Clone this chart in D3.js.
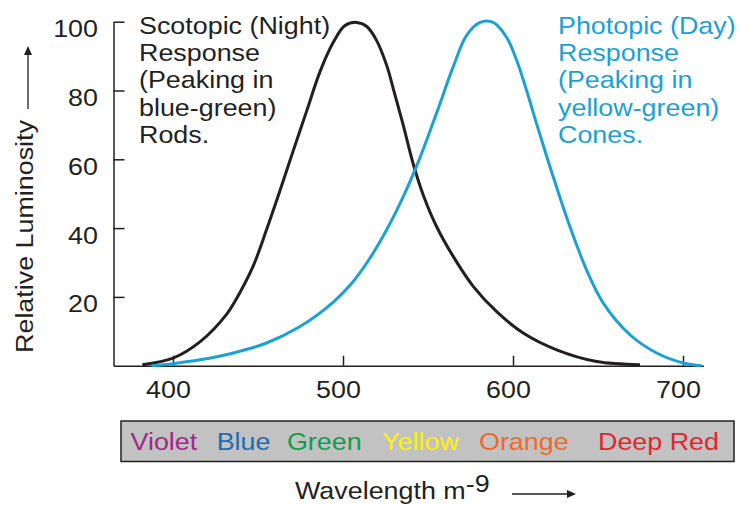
<!DOCTYPE html>
<html>
<head>
<meta charset="utf-8">
<script src="https://cdn.jsdelivr.net/npm/d3@7"></script>
<style>
  html, body { margin: 0; padding: 0; background: #ffffff; }
  svg { display: block; font-family: "Liberation Sans", Arial, Helvetica, sans-serif; }
</style>
</head>
<body>
<svg id="chart" width="742" height="506"></svg>
<script>
// ---- data ----
const scotopicWl  = [382, 400, 416, 431.6, 439.4, 447.2, 455, 463, 470.8, 478.6, 486.5, 494.3, 501, 508, 514, 519.8, 525.7, 529.6, 535.5, 541.4, 547.3, 555.1, 564.9, 576.7, 590.4, 606, 625.7, 649.2, 674.7];
const scotopicVal = [0.3, 2.2, 7, 15, 21.3, 29, 39.5, 51, 62.6, 74, 85.5, 94, 98.8, 99.8, 98.6, 94.5, 87.3, 80.5, 69.8, 58.5, 49.5, 40.4, 31.7, 23, 15.7, 9.5, 4.6, 1.2, 0.3];

const photopicWl  = [387.5, 400, 415.9, 435.5, 455, 474.7, 494.3, 506, 515.9, 525.7, 535.5, 545.3, 555.1, 564.9, 572.7, 580.6, 588.4, 596.3, 602.2, 608, 613.9, 619.8, 625.7, 633.5, 643.3, 653.1, 668.8, 684.5, 700.2, 711];
const photopicVal = [0, 0.6, 1.7, 3.7, 6.6, 11.4, 18.5, 24.5, 31.3, 39.5, 49.2, 60.5, 73.5, 87, 96, 99.8, 99.8, 95.4, 88.7, 80, 70.3, 60.9, 51.8, 40.4, 27.8, 18.2, 9, 3.7, 0.8, 0];

const xTicks = [400, 500, 600, 700];
const yTicks = [20, 40, 60, 80, 100];

const bandNames = ["Violet", "Blue", "Green", "Yellow", "Orange", "Deep Red"];
const bandWl    = [375, 425.7, 467, 523, 580, 650];   // wavelength where each word starts
const bandColors = ["#a2278c", "#1b6db5", "#0ca04b", "#fff200", "#ec6a2c", "#e2262b"];

const scotopicLines = ["Scotopic (Night)", "Response", "(Peaking in", "blue-green)", "Rods."];
const photopicLines = ["Photopic (Day)", "Response", "(Peaking in", "yellow-green)", "Cones."];

// ---- styles ----
const INK = "#231f20";
const CYAN = "#1ba1d6";
const FS = 24;      // font size
const SX = 1.12;    // horizontal stretch to match reference type

const svg = d3.select("#chart");

const x = d3.scaleLinear().domain([365, 712]).range([113.5, 703.4]);
const y = d3.scaleLinear().domain([0, 100]).range([365.7, 21.7]);

function label(g, px, py, s, fill, anchor) {
  return g.append("text")
    .attr("transform", `translate(${px},${py}) scale(${SX},1)`)
    .attr("text-anchor", anchor || "start")
    .attr("font-size", FS)
    .attr("fill", fill || INK)
    .text(s);
}

// ---- axes ----
const yAxis = d3.axisLeft(y).tickValues(yTicks).tickSize(-11).tickSizeOuter(0);
const gy = svg.append("g").attr("transform", `translate(${x(365)},0)`).call(yAxis);
gy.selectAll("path.domain, line").attr("stroke", INK).attr("stroke-width", 1.5);
gy.selectAll("text")
  .attr("x", null).attr("dy", null)
  .attr("transform", `translate(-15.5,15) scale(${SX},1)`)
  .attr("font-size", FS).attr("font-family", null).attr("fill", INK);

const xAxis = d3.axisBottom(x).tickValues(xTicks).tickSize(-10).tickSizeOuter(0).tickFormat(d3.format("d"));
const gx = svg.append("g").attr("transform", `translate(0,${y(0)})`).call(xAxis);
gx.selectAll("path.domain, line").attr("stroke", INK).attr("stroke-width", 1.5);
gx.selectAll("text")
  .attr("y", null).attr("dy", null)
  .attr("transform", `translate(-5,32.6) scale(${SX},1)`)
  .attr("font-size", FS).attr("font-family", null).attr("fill", INK);

// ---- curves ----
const line = d3.line().x(d => x(d[0])).y(d => y(d[1])).curve(d3.curveCatmullRom.alpha(0.5));
const scot = scotopicWl.map((w, i) => [w, scotopicVal[i]]);
const phot = photopicWl.map((w, i) => [w, photopicVal[i]]);

svg.append("path").datum(scot).attr("d", line)
  .attr("fill", "none").attr("stroke", INK).attr("stroke-width", 3).attr("stroke-linejoin", "round");
svg.append("path").datum(phot).attr("d", line)
  .attr("fill", "none").attr("stroke", CYAN).attr("stroke-width", 3).attr("stroke-linejoin", "round");

// ---- annotations ----
const ann = svg.append("g");
scotopicLines.forEach((s, i) => label(ann, 139, 33.5 + i * 27.4, s, INK));
photopicLines.forEach((s, i) => label(ann, 558, 33.5 + i * 27.4, s, CYAN));

// ---- y label + arrow ----
svg.append("text")
  .attr("transform", `translate(33,236.5) rotate(-90) scale(${SX},1)`)
  .attr("text-anchor", "middle").attr("font-size", FS).attr("fill", INK)
  .text("Relative Luminosity");
svg.append("line").attr("x1", 28).attr("x2", 28).attr("y1", 109).attr("y2", 54)
  .attr("stroke", INK).attr("stroke-width", 1.3);
svg.append("path").attr("d", "M28,46 L24,55 L32,55 Z").attr("fill", INK);

// ---- colour band ----
svg.append("rect").attr("x", 121).attr("y", 421).attr("width", 613).attr("height", 40.5)
  .attr("fill", "#c2c2c2").attr("stroke", INK).attr("stroke-width", 1.5);
const band = svg.append("g");
bandNames.forEach((s, i) => label(band, x(bandWl[i]), 450, s, bandColors[i]));

// ---- x label + arrow ----
const xl = svg.append("text")
  .attr("transform", `translate(295,499) scale(${SX},1)`)
  .attr("font-size", FS).attr("fill", INK);
xl.append("tspan").text("Wavelength m");
xl.append("tspan").attr("dy", -7).text("-9");
svg.append("line").attr("x1", 512).attr("x2", 568).attr("y1", 494).attr("y2", 494)
  .attr("stroke", INK).attr("stroke-width", 1.3);
svg.append("path").attr("d", "M576,494 L567,490 L567,498 Z").attr("fill", INK);
</script>
</body>
</html>
